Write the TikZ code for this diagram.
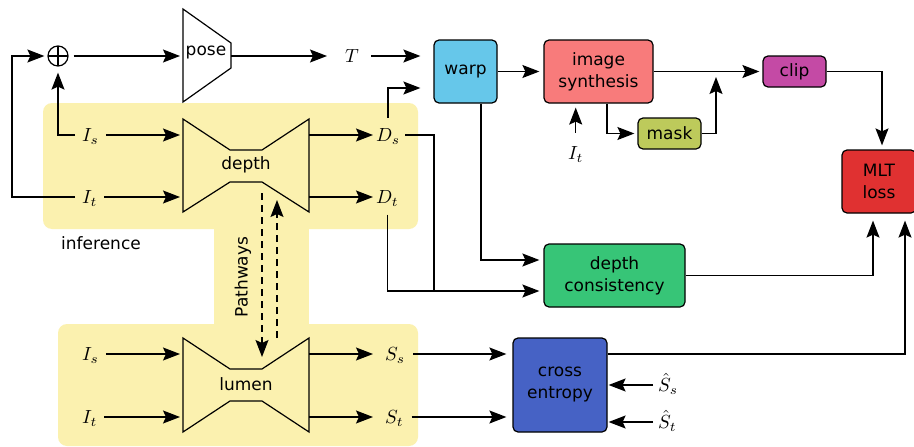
\RequirePackage{fix-cm}
\documentclass[tikz,border=0pt]{standalone}
\usepackage{fontspec}
\newfontfamily\labfont{DejaVu Sans}
\usetikzlibrary{arrows.meta,calc}
\definecolor{yel}{HTML}{FBF1AF}
\definecolor{cwarp}{HTML}{66C7EA}
\definecolor{csyn}{HTML}{F87B7B}
\definecolor{cclip}{HTML}{C44AA5}
\definecolor{cmask}{HTML}{BDCA5B}
\definecolor{cmlt}{HTML}{E03131}
\definecolor{cdc}{HTML}{37C577}
\definecolor{cce}{HTML}{4662C5}
\newcommand{\mlx}[1]{\scalebox{1.9}{$#1$}}
\begin{document}
\begin{tikzpicture}[x=1pt,y=-1pt,
  arr/.style={line width=1.3pt,-{Stealth[length=17pt,width=13pt,inset=3pt]}},
  ln/.style={line width=1.3pt},
  boxn/.style={draw,line width=1.2pt,rounded corners=5pt,inner sep=0pt,align=center,font=\labfont\fontsize{17}{22}\selectfont},
  txt/.style={inner sep=0pt,align=center,font=\labfont\fontsize{17}{22}\selectfont},
  mlab/.style={inner sep=1pt,anchor=west,text height=15pt,text depth=2pt,font=\fontsize{10}{12}\selectfont},
  bow/.style={fill=yel,draw,line width=1.2pt,line join=miter}]

\useasboundingbox (0,0) rectangle (914,447);
\fill[white] (0,0) rectangle (914,447);

% yellow backgrounds
\fill[yel,rounded corners=9pt] (43,103) rectangle (418,229);
\fill[yel,rounded corners=9pt] (58,324) rectangle (418,446);
\fill[yel] (214,228) rectangle (309,325);

% bowties and pose
\draw[bow] (183,119) -- (230,150) -- (262,150) -- (309,119) -- (309,212) -- (262,182) -- (230,182) -- (183,212) -- cycle;
\draw[bow] (183,338) -- (230,369) -- (262,369) -- (309,338) -- (309,432) -- (262,401) -- (230,401) -- (183,432) -- cycle;
\draw[line width=1.2pt,fill=white,line join=miter] (183,9) -- (231,43) -- (231,68) -- (183,102) -- cycle;

\node[txt] (depthlab) at (246,165) {depth};
\node[txt] (lumenlab) at (246,384) {lumen};
\node[txt] (poselab) at (206,53) {pose};
\node[txt] (inflab) at (101,243) {inference};
\node[txt,rotate=90] (pw) at (243,277) {Pathways};

% plus
\node[circle,draw,line width=1.2pt,minimum size=20pt,inner sep=0pt,
  path picture={\draw[line width=1.2pt] (path picture bounding box.north) -- (path picture bounding box.south)
  (path picture bounding box.west) -- (path picture bounding box.east);}] (plus) at (58,56) {};

% math labels
\node[mlab] (is1) at (81,135) {\mlx{I_s}};
\node[mlab] (it1) at (81,197) {\mlx{I_t}};
\node[mlab] (is2) at (81,354) {\mlx{I_s}};
\node[mlab] (it2) at (81,417) {\mlx{I_t}};
\node[mlab] (ds) at (375,135) {\mlx{D_s}};
\node[mlab] (dt) at (375,197) {\mlx{D_t}};
\node[mlab] (ss) at (384,354) {\mlx{S_s}};
\node[mlab] (st) at (384,417) {\mlx{S_t}};
\node[mlab] (T) at (344,56) {\mlx{T}};
\node[mlab] (it3) at (567,153) {\mlx{I_t}};
\node[mlab] (hss) at (657,385) {\mlx{\hat{S}_s}};
\node[mlab] (hst) at (657,422) {\mlx{\hat{S}_t}};

% boxes
\node[boxn,fill=cwarp,minimum width=63pt,minimum height=63pt] (warp) at (465.5,71.5) {warp};
\node[boxn,fill=csyn,minimum width=109pt,minimum height=63pt] (syn) at (598.5,71.5) {image\\synthesis};
\node[boxn,fill=cclip,minimum width=63pt,minimum height=31pt] (clip) at (794.5,71.5) {clip};
\node[boxn,fill=cmask,minimum width=63pt,minimum height=31pt] (mask) at (669.5,133.5) {mask};
\node[boxn,fill=cmlt,minimum width=74pt,minimum height=63pt] (mlt) at (879,181.5) {MLT\\loss};
\node[boxn,fill=cdc,minimum width=141pt,minimum height=63pt] (dc) at (614.5,275.5) {depth\\consistency};
\node[boxn,fill=cce,minimum width=94pt,minimum height=94pt] (ce) at (560,385) {cross\\entropy};

% coordinates
\coordinate (loopx) at (12,0);
\coordinate (poseL) at (183,56);
\coordinate (poseR) at (231,56);
\coordinate (dI1) at (183,135);
\coordinate (dI2) at (183,197);
\coordinate (dO1) at (309,135);
\coordinate (dO2) at (309,197);
\coordinate (lI1) at (183,354);
\coordinate (lI2) at (183,417);
\coordinate (lO1) at (309,354);
\coordinate (lO2) at (309,417);
\coordinate (jx) at (434,0);
\coordinate (mj) at (716,77);
\coordinate (pa1) at (262,193);
\coordinate (pa2) at (262,357);
\coordinate (pb1) at (277,338);
\coordinate (pb2) at (277,200);
\coordinate (dcA) at ([yshift=15.5pt]dc.west);
\coordinate (dcB) at ([yshift=-15.5pt]dc.west);
\coordinate (wb) at ([xshift=15.5pt]warp.south);

% connectors
\draw[arr,shorten <=6pt,shorten >=3pt] (it1.west) -- (it1.west -| loopx) |- (plus.west);
\draw[arr,shorten <=6pt,shorten >=6pt] (is1.west) -| (plus.south);
\draw[arr,shorten <=5pt,shorten >=3pt] (plus.east) -- (poseL);
\draw[arr,shorten >=17pt] (poseR) -- (T.west);
\draw[arr,shorten <=11pt,shorten >=13pt] (T.east) -- (T.east -| warp.west);
\draw[arr,shorten <=7.5pt,shorten >=13pt] (ds.north) |- ([yshift=-16.5pt]warp.west);

\draw[arr,shorten <=6pt,shorten >=3pt] (is1.east) -- (dI1);
\draw[arr,shorten <=6pt,shorten >=3pt] (it1.east) -- (dI2);
\draw[arr,shorten >=2pt] (dO1) -- (ds.west);
\draw[arr,shorten >=2pt] (dO2) -- (dt.west);
\draw[arr,shorten <=6pt,shorten >=3pt] (is2.east) -- (lI1);
\draw[arr,shorten <=6pt,shorten >=3pt] (it2.east) -- (lI2);
\draw[arr,shorten >=11pt] (lO1) -- (ss.west);
\draw[arr,shorten >=11pt] (lO2) -- (st.west);

\draw[arr,dashed,dash pattern=on 7pt off 5pt] (pa1) -- (pa2);
\draw[arr,dashed,dash pattern=on 7pt off 5pt] (pb1) -- (pb2);

\draw[ln,shorten <=4pt] (ds.east) -| (dcB -| jx);
\draw[arr,shorten <=8pt,shorten >=4pt] (dt.south) |- (dcB);
\draw[arr,shorten >=4pt] (wb) |- (dcA);

\draw[arr,shorten >=4pt] (warp.east) -- (syn.west);
\draw[arr,shorten >=3pt] (syn.east) -- (clip.west);
\draw[arr,shorten >=3pt] ([xshift=8.5pt]syn.south) |- (mask.west);
\draw[arr] (mask.east) -| (mj);
\draw[arr,shorten <=10.5pt,shorten >=4pt] (it3.north) -- (it3.north |- syn.south);
\draw[arr,shorten >=4pt] (clip.east) -| ([xshift=3pt]mlt.north);
\draw[arr,shorten >=7pt] (dc.east) -| ([xshift=-6pt]mlt.south);
\draw[arr,shorten >=7pt] ([yshift=31pt]ce.east) -| ([xshift=26pt]mlt.south);

\draw[arr,shorten <=7pt,shorten >=6pt] (ss.east) -- (ss.east -| ce.west);
\draw[arr,shorten <=7pt,shorten >=6pt] (st.east) -- (st.east -| ce.west);
\draw[arr,shorten <=4pt,shorten >=1pt] (hss.west) -- (hss.west -| ce.east);
\draw[arr,shorten <=4pt,shorten >=1pt] (hst.west) -- (hst.west -| ce.east);
\end{tikzpicture}
\end{document}
